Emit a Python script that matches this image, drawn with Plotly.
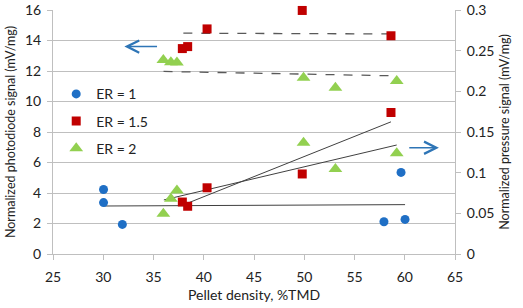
import plotly.graph_objects as go

# Pellet density (%TMD) and signals
# ER = 1 (pressure signal, right axis)
er1_x = [30.03, 30.03, 31.9, 57.93, 59.63, 60.03]
er1_p = [0.0793, 0.0632, 0.0364, 0.0396, 0.1003, 0.0425]

# ER = 1.5
er15_x = [37.87, 38.4, 40.33, 49.8, 58.63]
er15_photo = [13.47, 13.6, 14.76, 15.97, 14.31]     # left axis
er15_p = [0.0639, 0.0587, 0.0814, 0.0984, 0.174]   # right axis

# ER = 2
er2_x = [35.98, 36.73, 37.33, 49.93, 53.1, 59.2]
er2_photo = [12.72, 12.58, 12.55, 11.55, 10.9, 11.35]
er2_p = [0.0496, 0.068, 0.0781, 0.1368, 0.1045, 0.1239]

# Trendlines (endpoints)
tr_er15_photo_x = [37.97, 58.63]
tr_er15_photo_y = [14.48, 14.43]
tr_er2_photo_x = [36.0, 59.2]
tr_er2_photo_y = [11.97, 11.68]
tr_er1_p_x = [30.03, 60.03]
tr_er1_p_y = [0.0590, 0.0607]
tr_er15_p_x = [37.87, 58.63]
tr_er15_p_y = [0.0599, 0.1625]
tr_er2_p_x = [36.03, 59.2]
tr_er2_p_y = [0.0665, 0.1340]

BLUE = "#1F6FC5"
RED = "#C00000"
GREEN = "#92D050"
FONT = "Lato"

fig = go.Figure()

line_solid = dict(color="#404040", width=1)
line_dash = dict(color="#595959", width=1.3, dash="dash")

fig.add_trace(go.Scatter(x=tr_er15_photo_x, y=tr_er15_photo_y, mode="lines", line=line_dash,
                         showlegend=False, yaxis="y", hoverinfo="skip"))
fig.add_trace(go.Scatter(x=tr_er2_photo_x, y=tr_er2_photo_y, mode="lines", line=line_dash,
                         showlegend=False, yaxis="y", hoverinfo="skip"))
fig.add_trace(go.Scatter(x=tr_er1_p_x, y=tr_er1_p_y, mode="lines", line=line_solid,
                         showlegend=False, yaxis="y2", hoverinfo="skip"))
fig.add_trace(go.Scatter(x=tr_er15_p_x, y=tr_er15_p_y, mode="lines", line=line_solid,
                         showlegend=False, yaxis="y2", hoverinfo="skip"))
fig.add_trace(go.Scatter(x=tr_er2_p_x, y=tr_er2_p_y, mode="lines", line=line_solid,
                         showlegend=False, yaxis="y2", hoverinfo="skip"))

fig.add_trace(go.Scatter(x=er1_x, y=er1_p, mode="markers", name="ER = 1", yaxis="y2",
                         legendgroup="a", cliponaxis=False,
                         marker=dict(symbol="circle", size=9, color=BLUE)))
fig.add_trace(go.Scatter(x=er15_x, y=er15_photo, mode="markers", name="ER = 1.5", yaxis="y",
                         legendgroup="b", cliponaxis=False,
                         marker=dict(symbol="square", size=9, color=RED)))
fig.add_trace(go.Scatter(x=er15_x, y=er15_p, mode="markers", name="ER = 1.5", yaxis="y2",
                         legendgroup="b", showlegend=False, cliponaxis=False,
                         marker=dict(symbol="square", size=9, color=RED)))
fig.add_trace(go.Scatter(x=er2_x, y=er2_photo, mode="markers", name="ER = 2", yaxis="y",
                         legendgroup="c", cliponaxis=False,
                         marker=dict(symbol="triangle-up", size=12, color=GREEN)))
fig.add_trace(go.Scatter(x=er2_x, y=er2_p, mode="markers", name="ER = 2", yaxis="y2",
                         legendgroup="c", showlegend=False, cliponaxis=False,
                         marker=dict(symbol="triangle-up", size=12, color=GREEN)))

axis_common = dict(showline=True, linecolor="#BFBFBF", linewidth=1, ticks="outside",
                   tickcolor="#BFBFBF", ticklen=5, zeroline=False, ticklabeloverflow="allow",
                   automargin=False,
                   tickfont=dict(family=FONT, size=14, color="#222"))

fig.update_layout(
    width=523, height=308,
    margin=dict(l=53, r=68, t=10, b=54),
    paper_bgcolor="white", plot_bgcolor="white",
    font=dict(family=FONT, size=14, color="#222"),
    xaxis=dict(range=[25, 65], dtick=5, showgrid=False, ticklabelstandoff=5,
               title=dict(text="Pellet density, %TMD", font=dict(family=FONT, size=14), standoff=6),
               **axis_common),
    yaxis=dict(range=[0, 16], dtick=2, showgrid=True, gridcolor="#BFBFBF", gridwidth=1,
               ticklabelstandoff=3,
               title=dict(text="Normalized photodiode signal (mV/mg)", font=dict(family=FONT, size=12.5), standoff=6),
               **axis_common),
    yaxis2=dict(range=[0, 0.3], dtick=0.05, overlaying="y", side="right", showgrid=False,
                tickformat="~g", ticklabelstandoff=3,
                title=dict(text="Normalized pressure signal (mV/mg)", font=dict(family=FONT, size=12.5), standoff=6),
                **axis_common),
    legend=dict(x=0.008, y=0.72, xanchor="left", yanchor="top", bgcolor="rgba(0,0,0,0)",
                font=dict(family=FONT, size=14), traceorder="grouped", tracegroupgap=6,
                itemwidth=30),
    annotations=[
        dict(x=32.1, y=13.6, ax=35.5, ay=13.6, xref="x", yref="y", axref="x", ayref="y",
             text="", showarrow=True, arrowhead=5, arrowsize=1.6, arrowwidth=1.5, arrowcolor="#2E75B6"),
        dict(x=63.4, y=6.97, ax=60.3, ay=6.97, xref="x", yref="y", axref="x", ayref="y",
             text="", showarrow=True, arrowhead=5, arrowsize=1.6, arrowwidth=1.5, arrowcolor="#2E75B6"),
    ],
)

# remove the browser's default 8px page margin so the figure fills the window exactly
fig.write_html("out.html", config={"displayModeBar": False},
               post_script="document.body.style.margin='0';document.body.style.padding='0';")
